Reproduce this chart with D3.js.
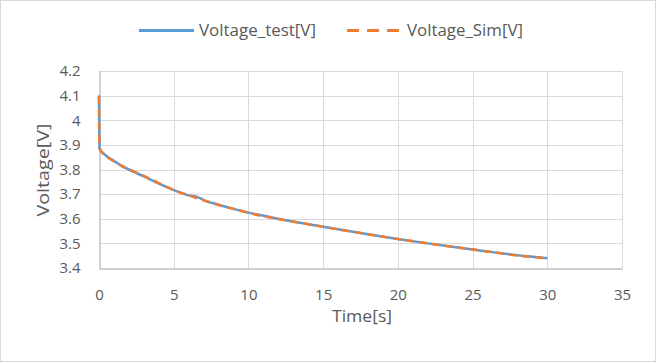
<!DOCTYPE html>
<html>
<head>
<meta charset="utf-8">
<script src="https://cdn.jsdelivr.net/npm/d3@7"></script>
<style>
  html, body { margin: 0; padding: 0; background: white; }
  text { font-family: "Open Sans", "Noto Sans", sans-serif; fill: #595959; }
</style>
</head>
<body>
<div id="chart"></div>
<script>
const width = 656,
  height = 362,
  margin = { top: 71, right: 34, bottom: 94, left: 99 };

// data
const timeTest = [0, 0.03, 0.5, 1, 1.5, 2, 3, 4, 5, 6, 6.6, 7, 8, 9, 10, 12, 14, 16, 18, 20, 22, 24, 26, 28, 30];
const voltTest = [4.10, 3.887, 3.855, 3.835, 3.815, 3.800, 3.772, 3.743, 3.716, 3.695, 3.688, 3.676, 3.657, 3.640, 3.625, 3.600, 3.578, 3.557, 3.537, 3.518, 3.500, 3.483, 3.467, 3.452, 3.440];
const timeSim = [0, 0.03, 0.5, 1, 1.5, 2, 3, 4, 5, 6, 7, 8, 9, 10, 12, 14, 16, 18, 20, 22, 24, 26, 28, 30];
const voltSim = [4.10, 3.885, 3.853, 3.834, 3.816, 3.801, 3.774, 3.745, 3.717, 3.695, 3.675, 3.656, 3.640, 3.624, 3.599, 3.578, 3.557, 3.537, 3.518, 3.500, 3.483, 3.467, 3.451, 3.439];
const xTicks = [0, 5, 10, 15, 20, 25, 30, 35];
const yTicks = [3.4, 3.5, 3.6, 3.7, 3.8, 3.9, 4.0, 4.1, 4.2];
const seriesNames = ["Voltage_test[V]", "Voltage_Sim[V]"];
const colors = ["#5b9bd5", "#ed7d31"];

const svg = d3.select("#chart").append("svg")
  .attr("width", width)
  .attr("height", height);

svg.append("rect")
  .attr("x", 0.5).attr("y", 0.5)
  .attr("width", width - 1).attr("height", height - 1)
  .attr("fill", "white")
  .attr("stroke", "#d9d9d9");

const x = d3.scaleLinear().domain([0, 35]).range([margin.left, width - margin.right]);
const y = d3.scaleLinear().domain([3.4, 4.2]).range([height - margin.bottom, margin.top]);

// gridlines
svg.append("g").selectAll("line").data(yTicks.slice(1)).enter().append("line")
  .attr("x1", x(0)).attr("x2", x(35))
  .attr("y1", d => Math.round(y(d)) + 0.5).attr("y2", d => Math.round(y(d)) + 0.5)
  .attr("stroke", "#d9d9d9");
svg.append("g").selectAll("line").data(xTicks.slice(1)).enter().append("line")
  .attr("y1", y(3.4)).attr("y2", y(4.2))
  .attr("x1", d => Math.round(x(d)) + 0.5).attr("x2", d => Math.round(x(d)) + 0.5)
  .attr("stroke", "#d9d9d9");

// axes
const xAxis = svg.append("g")
  .attr("transform", `translate(0,${Math.round(y(3.4)) + 0.5})`)
  .call(d3.axisBottom(x).tickValues(xTicks).tickSize(0).tickPadding(21));
xAxis.select(".domain").attr("stroke", "#bfbfbf").attr("stroke-width", 1.5);
xAxis.selectAll("text").style("font-size", "15px").attr("fill", "#595959");

const yAxis = svg.append("g")
  .attr("transform", `translate(${Math.round(x(0)) + 0.5},0)`)
  .call(d3.axisLeft(y).tickValues(yTicks).tickSize(0).tickPadding(19)
    .tickFormat(d => d3.format("")(+d.toFixed(1))));
yAxis.select(".domain").attr("stroke", "#bfbfbf").attr("stroke-width", 1.5);
yAxis.selectAll("text").style("font-size", "15px").attr("fill", "#595959");

// axis titles
svg.append("text")
  .attr("x", 362).attr("y", 322)
  .attr("text-anchor", "middle")
  .style("font-size", "17px")
  .attr("textLength", 60)
  .attr("lengthAdjust", "spacingAndGlyphs")
  .text("Time[s]");

svg.append("text")
  .attr("transform", `translate(49,170) rotate(-90)`)
  .attr("text-anchor", "middle")
  .style("font-size", "17px")
  .attr("textLength", 93)
  .attr("lengthAdjust", "spacingAndGlyphs")
  .text("Voltage[V]");

// lines
const line = d3.line().x(d => x(d[0])).y(d => y(d[1])).curve(d3.curveMonotoneX);

svg.append("path")
  .datum(d3.zip(timeTest, voltTest))
  .attr("fill", "none")
  .attr("stroke", colors[0])
  .attr("stroke-width", 2.5)
  .attr("d", line);

svg.append("path")
  .datum(d3.zip(timeSim, voltSim))
  .attr("fill", "none")
  .attr("stroke", colors[1])
  .attr("stroke-width", 2.5)
  .attr("stroke-dasharray", "8,5")
  .attr("d", line);

// legend
const legend = svg.append("g");
const legendX = [139, 347];
seriesNames.forEach((name, i) => {
  legend.append("line")
    .attr("x1", legendX[i]).attr("x2", legendX[i] + (i ? 53 : 55))
    .attr("y1", 30.5).attr("y2", 30.5)
    .attr("stroke", colors[i])
    .attr("stroke-width", 3)
    .attr("stroke-dasharray", i ? "12,8" : null);
  legend.append("text")
    .attr("x", legendX[i] + 60).attr("y", 36)
    .style("font-size", "17px")
    .attr("textLength", i ? 116 : 117)
    .attr("lengthAdjust", "spacingAndGlyphs")
    .text(name);
});
</script>
</body>
</html>
